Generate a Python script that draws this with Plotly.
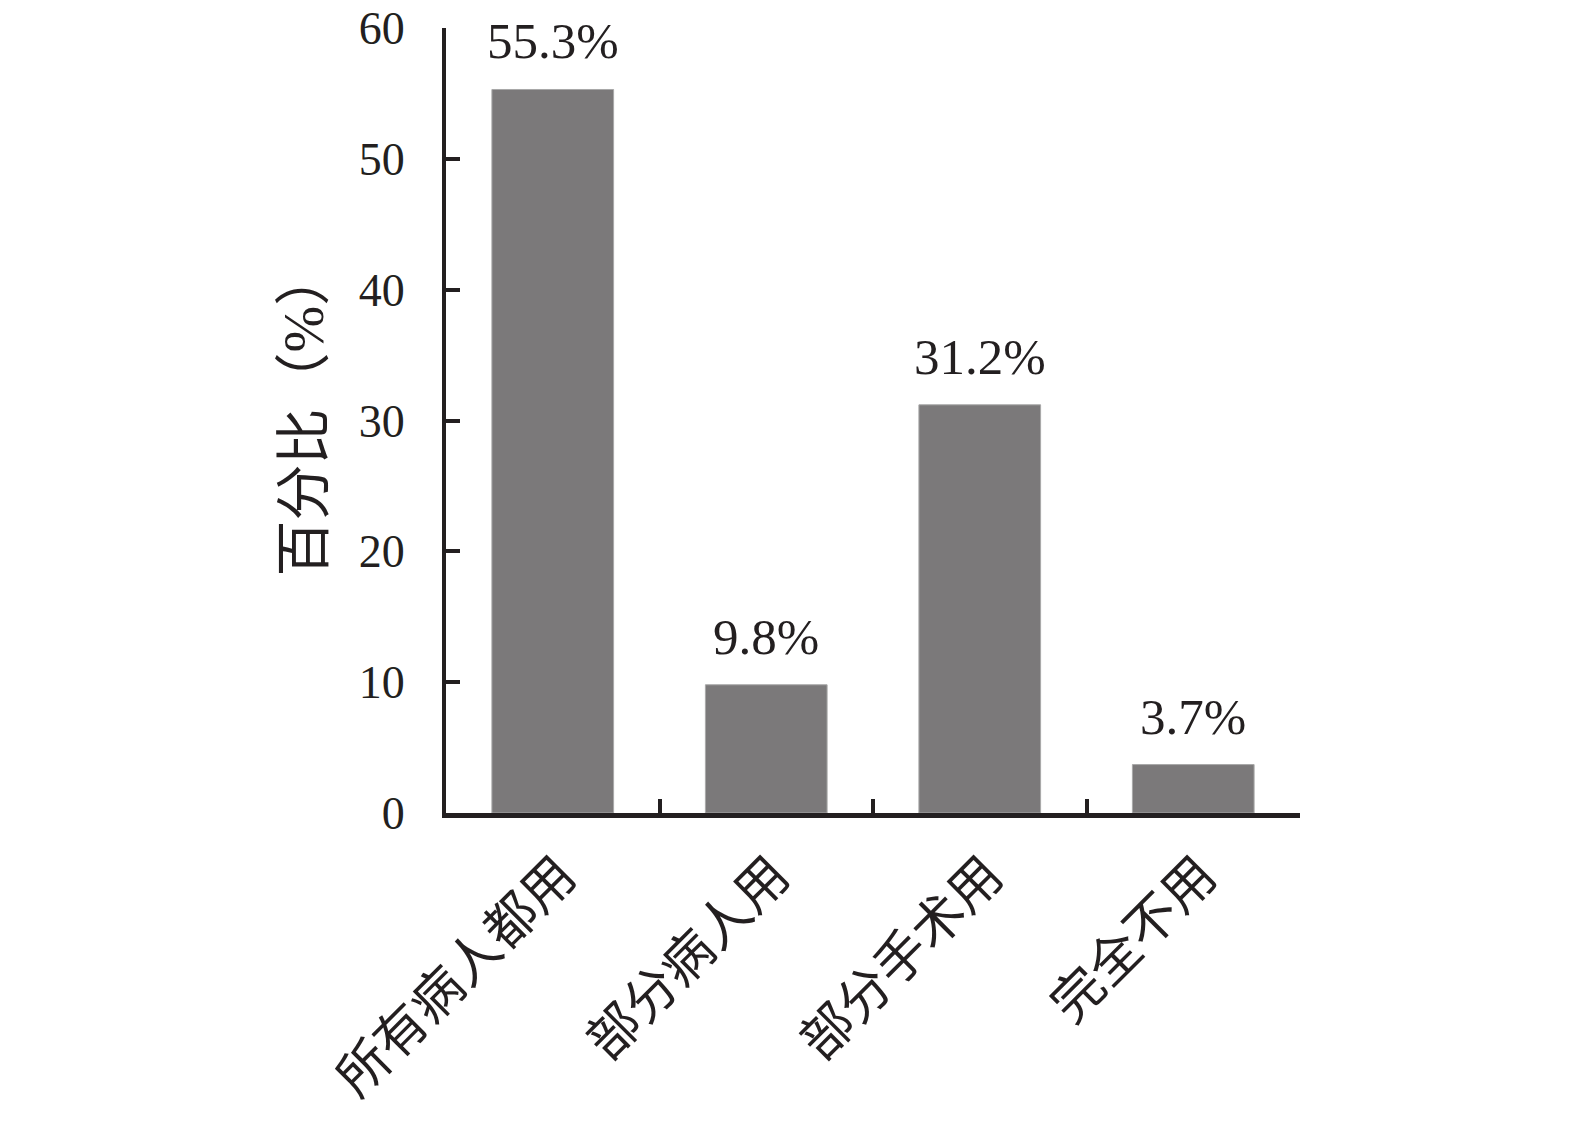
import plotly.graph_objects as go

categories = ["所有病人都用", "部分病人用", "部分手术用", "完全不用"]
values = [55.3, 9.8, 31.2, 3.7]
value_labels = ["55.3%", "9.8%", "31.2%", "3.7%"]
y_ticks = [0, 10, 20, 30, 40, 50, 60]
y_title = "百分比（%）"

FONT = "Liberation Serif, Times New Roman, Noto Sans CJK SC, serif"
INK = "#231f20"

fig = go.Figure()
fig.add_trace(go.Bar(
    x=categories, y=values,
    marker=dict(color="#7b797a", line=dict(color="#a8a8a8", width=1)),
    width=0.57,
))
for c, v, t in zip(categories, values, value_labels):
    fig.add_annotation(
        x=c, y=v, text=t, showarrow=False, xanchor="center", yanchor="bottom",
        yshift=18, font=dict(family=FONT, size=51, color=INK),
    )

fig.update_layout(
    template="none",
    width=1575, height=1122,
    margin=dict(l=438, r=283, t=20, b=317, autoexpand=False),
    plot_bgcolor="white", paper_bgcolor="white",
    showlegend=False,
    font=dict(family=FONT, color=INK),
)
fig.update_xaxes(
    type="category", range=[-0.5, 3.5], automargin=False,
    showline=True, linecolor=INK, linewidth=5,
    ticks="inside", tickson="boundaries", ticklen=14, tickwidth=4, tickcolor=INK,
    tickangle=-45, tickfont=dict(family=FONT, size=52, color=INK),
    ticklabelshift=8, ticklabelstandoff=6, ticklabeloverflow="allow",
    showgrid=False, zeroline=False,
)
fig.update_yaxes(
    range=[0, 60], tickvals=y_ticks, automargin=False,
    showline=True, linecolor=INK, linewidth=4,
    ticks="inside", ticklen=14, tickwidth=4, tickcolor=INK,
    tickfont=dict(family=FONT, size=46, color=INK),
    ticklabelstandoff=28, ticklabeloverflow="allow",
    showgrid=False, zeroline=False,
)
fig.add_annotation(
    text=y_title, textangle=-90, xref="paper", yref="paper",
    x=0, y=0.509, xanchor="center", yanchor="middle", xshift=-142, showarrow=False,
    font=dict(family=FONT, size=56, color=INK),
)
fig.write_html("out.html")
